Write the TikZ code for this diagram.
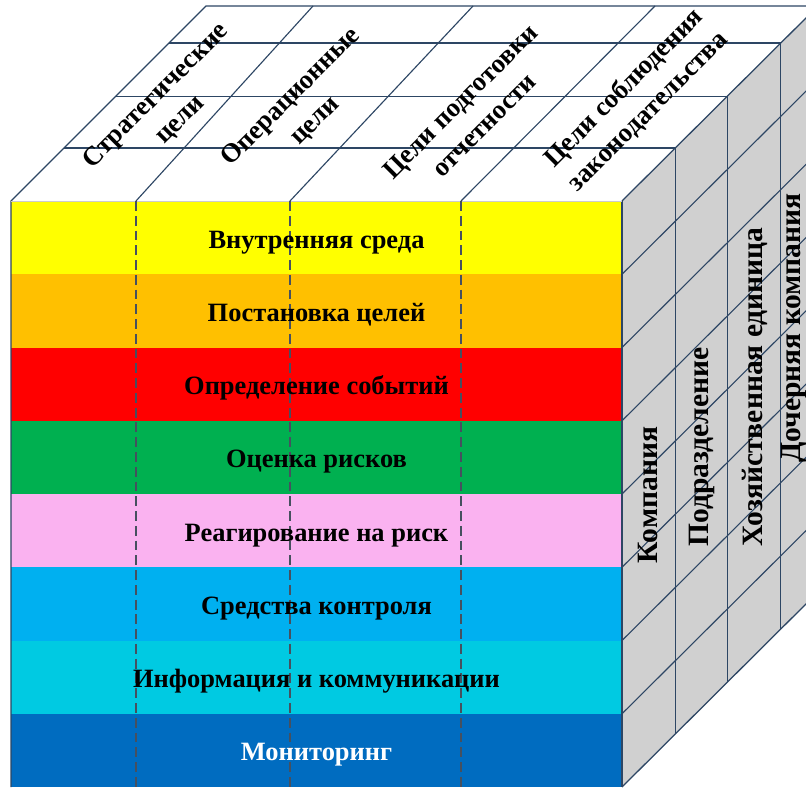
\documentclass[tikz,border=0pt]{standalone}
\usepackage{fontspec}
\setmainfont{Liberation Serif}
\usetikzlibrary{calc}
\definecolor{lineblue}{RGB}{45,70,100}
\definecolor{dashgray}{RGB}{70,80,95}
\definecolor{sidegray}{RGB}{208,208,208}
\definecolor{bandyellow}{RGB}{255,255,0}
\definecolor{bandorange}{RGB}{255,192,0}
\definecolor{bandred}{RGB}{255,0,0}
\definecolor{bandgreen}{RGB}{0,176,80}
\definecolor{bandpink}{RGB}{250,178,240}
\definecolor{bandblue}{RGB}{0,176,240}
\definecolor{bandcyan}{RGB}{0,202,226}
\definecolor{banddark}{RGB}{0,108,192}
\begin{document}
\begin{tikzpicture}[x=0.025cm,y=-0.025cm,
 edge/.style={draw=lineblue, line width=0.9pt},
 gridline/.style={draw=lineblue, line width=0.8pt},
 coldash/.style={draw=dashgray, line width=0.9pt, dash pattern=on 7pt off 3.5pt},
 bandtext/.style={anchor=base, font=\fontsize{18.8}{22}\selectfont\bfseries},
 toplabel/.style={rotate=45, align=center, font=\fontsize{19}{24}\selectfont\bfseries},
 sidelabel/.style={rotate=90, anchor=base, font=\fontsize{21}{24}\selectfont\bfseries}]
 \clip (0,0) rectangle (806,787); %画像の範囲
 \coordinate (A) at (11,201); %前面左上
 \coordinate (B) at (622,201); %前面右上
 \coordinate (C) at (622,787); %前面右下
 \coordinate (D) at (11,787); %前面左下
 \coordinate (E) at (206,6); %奥左上
 \coordinate (F) at (818,6); %奥右上
 \coordinate (G) at (818,592); %奥右下
 \coordinate (S1) at (136,201); %列の区切り
 \coordinate (S2) at (290,201);
 \coordinate (S3) at (461,201);
 \coordinate (T1) at (313,6); %奥の区切り
 \coordinate (T2) at (473,6);
 \coordinate (T3) at (655,6);
 \coordinate (U1) at (136,787); %下端
 \coordinate (U2) at (290,787);
 \coordinate (U3) at (461,787);
 \fill[white] (A)--(E)--(F)--(B)--cycle; %上面
 \fill[sidegray] (B)--(F)--(G)--(C)--cycle; %右側面
 \fill[bandyellow] (11,201) rectangle (622,274.25); %帯1
 \fill[bandorange] (11,274.25) rectangle (622,347.5); %帯2
 \fill[bandred] (11,347.5) rectangle (622,420.75); %帯3
 \fill[bandgreen] (11,420.75) rectangle (622,494); %帯4
 \fill[bandpink] (11,494) rectangle (622,567.25); %帯5
 \fill[bandblue] (11,567.25) rectangle (622,640.5); %帯6
 \fill[bandcyan] (11,640.5) rectangle (622,713.75); %帯7
 \fill[banddark] (11,713.75) rectangle (622,787); %帯8
 \draw[gridline] (622,274.25)--++(196,-195); %右側面の斜線
 \draw[gridline] (622,347.5)--++(196,-195);
 \draw[gridline] (622,420.75)--++(196,-195);
 \draw[gridline] (622,494)--++(196,-195);
 \draw[gridline] (622,567.25)--++(196,-195);
 \draw[gridline] (622,640.5)--++(196,-195);
 \draw[gridline] (622,713.75)--++(196,-195);
 \draw[gridline] ($(B)!0.272!(F)$)--($(C)!0.272!(G)$); %右側面の縦線
 \draw[gridline] ($(B)!0.538!(F)$)--($(C)!0.538!(G)$);
 \draw[gridline] ($(B)!0.810!(F)$)--($(C)!0.810!(G)$);
 \draw[gridline] ($(A)!0.272!(E)$)--($(B)!0.272!(F)$); %上面の横線
 \draw[gridline] ($(A)!0.538!(E)$)--($(B)!0.538!(F)$);
 \draw[gridline] ($(A)!0.810!(E)$)--($(B)!0.810!(F)$);
 \draw[gridline] (S1)--(T1); %上面の斜線
 \draw[gridline] (S2)--(T2);
 \draw[gridline] (S3)--(T3);
 \draw[edge] (D)--(A)--(E)--(F)--(G)--(C); %外形
 \draw[edge] (B)--(F);
 \draw[edge] (B)--(C);
 \draw[gray!40] (A)--(B); %前面の上辺
 \draw[coldash] (S1)--(U1); %点線
 \draw[coldash] (S2)--(U2);
 \draw[coldash] (S3)--(U3);
 \node[bandtext] (vnutr) at (316.5,248.1) {Внутренняя среда};
 \node[bandtext] (postan) at (316.5,321.4) {Постановка целей};
 \node[bandtext] (opred) at (316.5,394.6) {Определение событий};
 \node[bandtext] (ocenka) at (316.5,467.9) {Оценка рисков};
 \node[bandtext] (reag) at (316.5,541.1) {Реагирование на риск};
 \node[bandtext] (sredst) at (316.5,614.4) {Средства контроля};
 \node[bandtext] (inform) at (316.5,687.6) {Информация и коммуникации};
 \node[bandtext, text=white] (monit) at (316.5,760.9) {Мониторинг};
 \node[toplabel] (strat) at (168,108) {Стратегические\\цели};
 \node[toplabel] (oper) at (303,109) {Операционные\\цели};
 \node[toplabel] (otch) at (472,113) {Цели подготовки\\отчетности};
 \node[toplabel] (zakon) at (636,100) {Цели соблюдения\\законодательства};
 \node[sidelabel] (komp) at (657,495) {Компания};
 \node[sidelabel] (podr) at (708,447) {Подразделение};
 \node[sidelabel] (hoz) at (762,387) {Хозяйственная единица};
 \node[sidelabel] (doch) at (800,328) {Дочерняя компания};
\end{tikzpicture}
\end{document}
